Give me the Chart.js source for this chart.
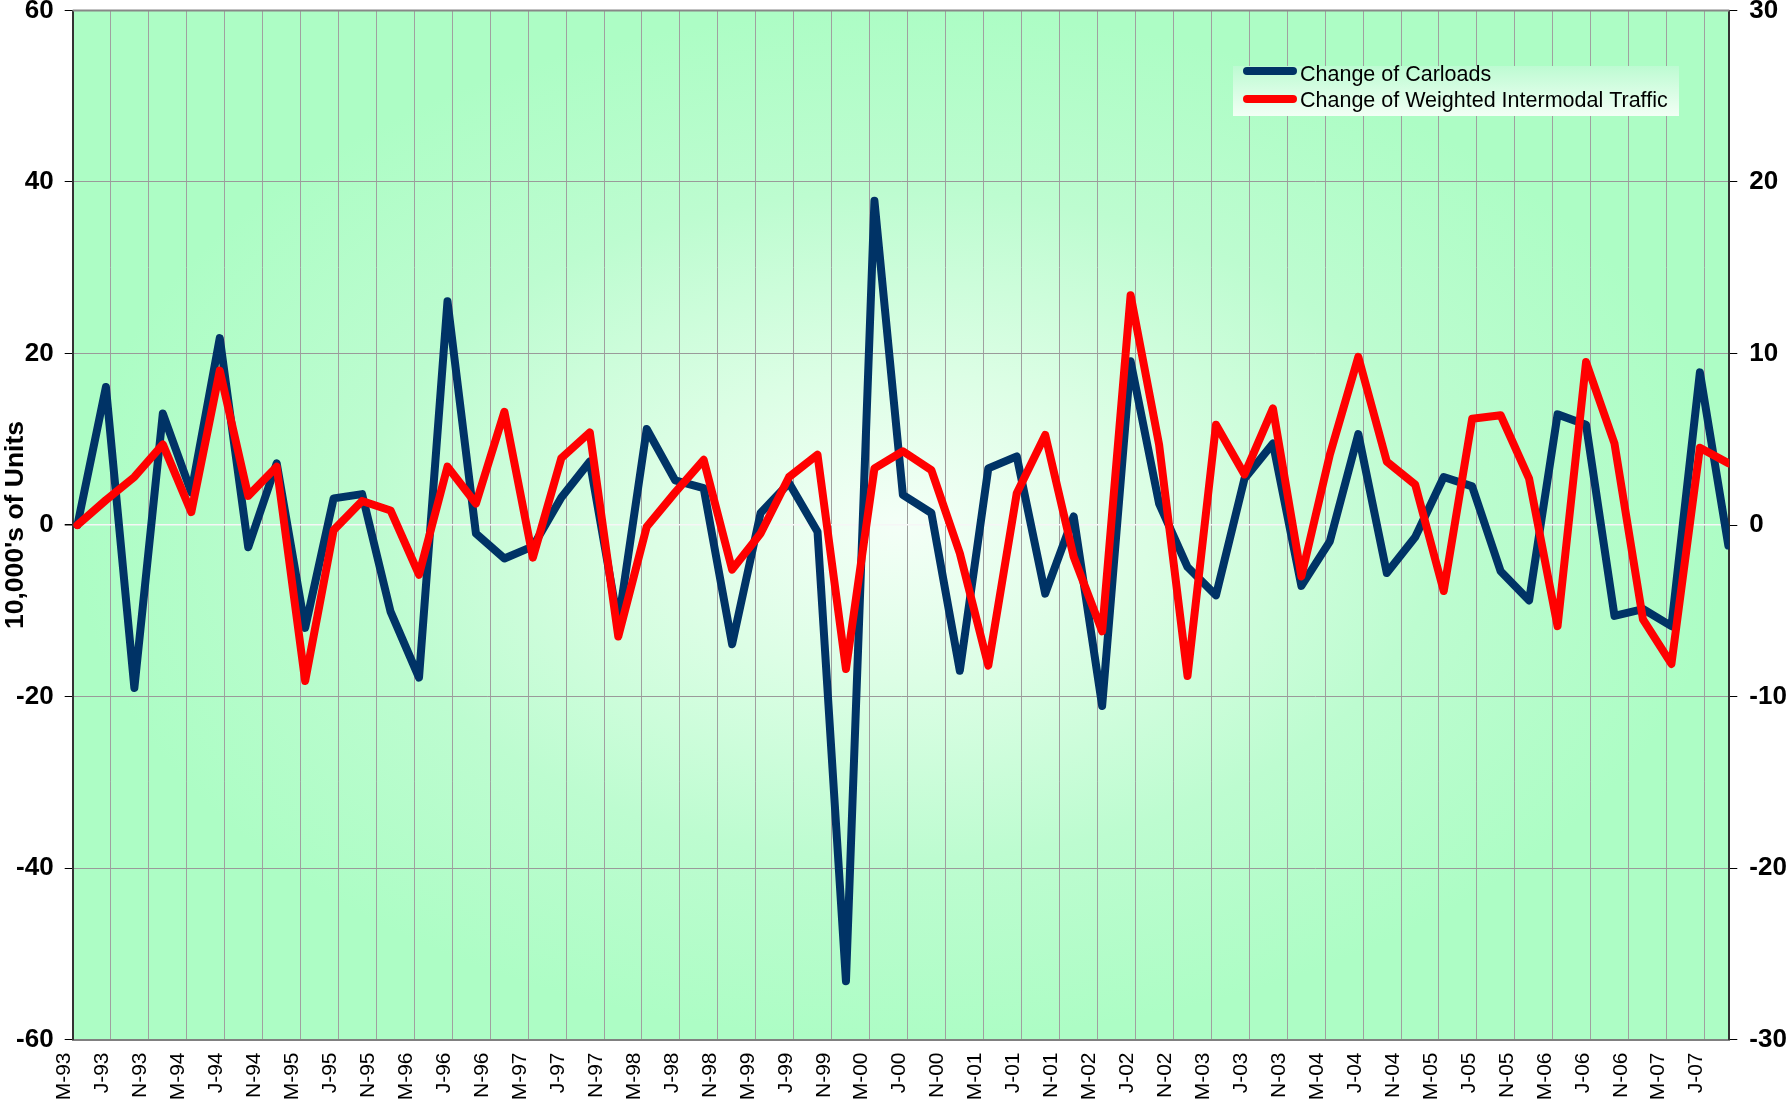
<!DOCTYPE html>
<html>
<head>
<meta charset="utf-8">
<script src="https://cdn.jsdelivr.net/npm/chart.js@4.4.0/dist/chart.umd.min.js"></script>
<style>
  html, body { margin: 0; padding: 0; background: #fff; }
  #wrap { width: 1791px; height: 1103px; }
</style>
</head>
<body>
<div id="wrap"><canvas id="railChart" width="1791" height="1103"></canvas></div>
<script>
// tick labels every 4 months starting March 1993
const tickLabels = [
  "M-93","J-93","N-93","M-94","J-94","N-94","M-95","J-95","N-95",
  "M-96","J-96","N-96","M-97","J-97","N-97","M-98","J-98","N-98",
  "M-99","J-99","N-99","M-00","J-00","N-00","M-01","J-01","N-01",
  "M-02","J-02","N-02","M-03","J-03","N-03","M-04","J-04","N-04",
  "M-05","J-05","N-05","M-06","J-06","N-06","M-07","J-07"
];

// quarterly changes, 10,000's of units (left axis)
const carloads = [
  0, 16.1, -19.0, 13.0, 3.8, 21.8, -2.6, 7.2, -12.0, 3.1,
  3.6, -10.1, -17.8, 26.1, -1.0, -3.9, -2.5, 3.2, 7.4, -11.5,
  11.2, 5.2, 4.3, -13.9, 1.4, 4.9, -0.8, -53.2, 37.8, 3.5,
  1.4, -17.0, 6.6, 8.0, -8.0, 1.0, -21.1, 19.1, 2.5, -4.9,
  -8.2, 5.4, 9.5, -7.1, -1.9, 10.6, -5.6, -1.4, 5.6, 4.5,
  -5.4, -8.8, 12.9, 11.7, -10.6, -9.8, -11.8, 17.8, -2.4
];

// weighted intermodal traffic (right axis)
const intermodal = [
  0, 1.45, 2.8, 4.7, 0.75, 9.0, 1.7, 3.4, -9.1, -0.3,
  1.4, 0.85, -2.9, 3.4, 1.25, 6.6, -1.9, 3.9, 5.4, -6.5,
  -0.1, 1.9, 3.8, -2.6, -0.5, 2.8, 4.1, -8.4, 3.3, 4.3,
  3.2, -1.65, -8.2, 1.85, 5.25, -1.85, -6.2, 13.4, 4.7, -8.8,
  5.85, 2.95, 6.8, -3.0, 4.1, 9.8, 3.7, 2.35, -3.85, 6.2,
  6.4, 2.7, -5.9, 9.5, 4.75, -5.5, -8.1, 4.5, 3.6
];

// mid-month of Mar/Jun/Sep/Dec, in months after 1 Mar 1993
const quarterMonths = carloads.map((_, i) => 0.5 + 3 * i);

const FONT = "'Liberation Sans', Arial, sans-serif";
Chart.defaults.font.family = FONT;

const plotBackground = {
  id: 'plotBackground',
  beforeDraw(chart) {
    const { ctx, chartArea: a } = chart;
    const cx = (a.left + a.right) / 2, cy = (a.top + a.bottom) / 2;
    const rx = (a.right - a.left) / 2, ry = (a.bottom - a.top) / 2;
    ctx.save();
    ctx.beginPath();
    ctx.rect(a.left, a.top, a.right - a.left, a.bottom - a.top);
    ctx.clip();
    ctx.translate(cx, cy);
    ctx.scale(1, ry / rx);
    const g = ctx.createRadialGradient(0, 0, 0, 0, 0, rx);
    g.addColorStop(0, '#f4fff7');
    g.addColorStop(0.3, '#dcfee5');
    g.addColorStop(0.65, '#bdfcd0');
    g.addColorStop(1, '#adfdc5');
    ctx.fillStyle = g;
    ctx.fillRect(-rx * 2, -rx * 2, rx * 4, rx * 4);
    ctx.restore();
  },
  afterDraw(chart) {
    const { ctx, chartArea: a } = chart;
    ctx.save();
    ctx.strokeStyle = '#888';
    ctx.lineWidth = 2;
    ctx.beginPath();
    ctx.moveTo(a.left, a.top);
    ctx.lineTo(a.right, a.top);
    ctx.stroke();
    ctx.restore();
  }
};

const boxLegend = {
  id: 'boxLegend',
  afterDraw(chart) {
    const ctx = chart.ctx;
    const x = 1233, y = 66, w = 446, h = 50;
    ctx.save();
    const g = ctx.createLinearGradient(0, y, 0, y + h);
    g.addColorStop(0, '#bdfbd2');
    g.addColorStop(1, '#f2fff5');
    ctx.fillStyle = g;
    ctx.fillRect(x, y, w, h);
    ctx.font = '21.5px ' + FONT;
    ctx.fillStyle = '#000';
    ctx.textBaseline = 'alphabetic';
    chart.data.datasets.forEach((ds, i) => {
      const ly = 71 + i * 28;
      ctx.strokeStyle = ds.borderColor;
      ctx.lineWidth = 8;
      ctx.lineCap = 'round';
      ctx.beginPath();
      ctx.moveTo(1247, ly);
      ctx.lineTo(1293, ly);
      ctx.stroke();
      ctx.fillText(ds.label, 1300, 81 + i * 26);
    });
    ctx.restore();
  }
};

new Chart(document.getElementById('railChart'), {
  type: 'line',
  data: {
    datasets: [
      {
        label: 'Change of Carloads',
        data: carloads.map((v, i) => ({ x: quarterMonths[i], y: v })),
        borderColor: '#003366',
        borderWidth: 8,
        yAxisID: 'y',
        order: 2
      },
      {
        label: 'Change of Weighted Intermodal Traffic',
        data: intermodal.map((v, i) => ({ x: quarterMonths[i], y: v })),
        borderColor: '#ff0000',
        borderWidth: 8,
        yAxisID: 'y1',
        order: 1
      }
    ]
  },
  options: {
    responsive: false,
    animation: false,
    layout: { padding: { top: 10.5, left: 0, right: 0, bottom: 0 } },
    elements: {
      point: { radius: 0 },
      line: { tension: 0, borderJoinStyle: 'round', borderCapStyle: 'round', fill: false }
    },
    plugins: { legend: { display: false }, tooltip: { enabled: false } },
    scales: {
      x: {
        type: 'linear',
        min: 0,
        max: 174.6,
        afterBuildTicks(scale) {
          scale.ticks = tickLabels.map((_, i) => ({ value: i * 4 }));
        },
        ticks: {
          autoSkip: false,
          minRotation: 90,
          maxRotation: 90,
          padding: 13,
          labelOffset: -8,
          color: '#000',
          font: { size: 21 },
          callback: (v) => tickLabels[Math.round(v / 4)]
        },
        grid: { color: '#a0a0a0', lineWidth: 1, drawTicks: false },
        border: { color: '#808080', width: 2 },
        afterFit(scale) {
          scale.height = 63.5;
          scale.paddingLeft = 0;
          scale.paddingRight = 0;
        }
      },
      y: {
        position: 'left',
        min: -60,
        max: 60,
        ticks: {
          stepSize: 20,
          color: '#000',
          padding: 11,
          font: { size: 26, weight: 'bold' }
        },
        grid: {
          color: (c) => (c.tick && c.tick.value === 0 ? '#f6f6f6' : '#9a9a9a'),
          lineWidth: (c) => (c.tick && c.tick.value === 0 ? 1.5 : 1),
          tickColor: '#000',
          tickLength: 8
        },
        border: { color: '#333', width: 2 },
        title: {
          display: true,
          text: "10,000's of Units",
          color: '#000',
          padding: 0,
          font: { size: 26.5, weight: 'bold' }
        },
        afterFit(scale) {
          scale.width = 72.7;
          scale.paddingTop = 0;
          scale.paddingBottom = 0;
        }
      },
      y1: {
        position: 'right',
        min: -30,
        max: 30,
        ticks: {
          stepSize: 10,
          color: '#000',
          padding: 12,
          font: { size: 26, weight: 'bold' }
        },
        grid: { drawOnChartArea: false, tickColor: '#000', tickLength: 8 },
        border: { color: '#333', width: 2 },
        afterFit(scale) {
          scale.width = 61.7;
          scale.paddingTop = 0;
          scale.paddingBottom = 0;
        }
      }
    }
  },
  plugins: [plotBackground, boxLegend]
});
</script>
</body>
</html>
